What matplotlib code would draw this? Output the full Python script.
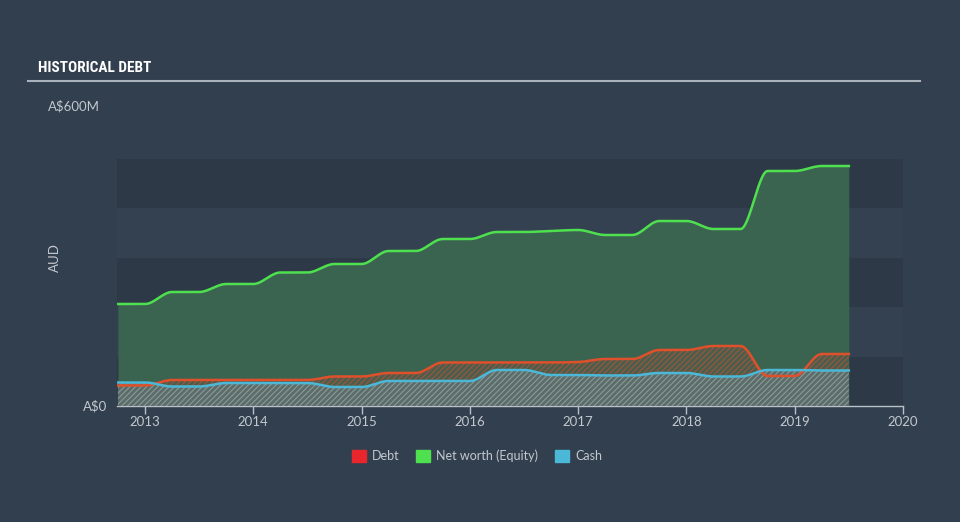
import matplotlib
matplotlib.use("Agg")
import matplotlib.pyplot as plt
from matplotlib import font_manager
import numpy as np

# quarterly points, values in A$ millions
dates = [2012.75, 2013.0, 2013.25, 2013.5, 2013.75, 2014.0, 2014.25, 2014.5,
         2014.75, 2015.0, 2015.25, 2015.5, 2015.75, 2016.0, 2016.25, 2016.5,
         2016.75, 2017.0, 2017.25, 2017.5, 2017.75, 2018.0, 2018.25, 2018.5,
         2018.75, 2019.0, 2019.25, 2019.5]
equity = [204, 204, 228, 228, 244, 244, 267, 267,
          284, 284, 310, 310, 334, 334, 348, 348,
          350, 352, 342, 342, 370, 370, 354, 354,
          470, 470, 480, 480]
debt = [41, 41, 52, 52, 52, 52, 52, 52,
        59, 59, 66, 66, 87, 87, 87, 87,
        87, 88, 94, 94, 112, 112, 120, 120,
        60, 60, 104, 104]
cash = [47, 47, 39, 39, 46, 46, 46, 46,
        38, 38, 50, 50, 50, 50, 72, 72,
        62, 62, 61, 61, 66, 66, 59, 59,
        72, 72, 71, 71]
year_ticks = [2013, 2014, 2015, 2016, 2017, 2018, 2019, 2020]

BG = "#323f4e"
BAND_DARK = "#2d3947"
BAND_LIGHT = "#344150"
GREEN = "#4fe04f"
GREEN_FILL = "#3a6450"
RED = "#e0502a"
BLUE = "#4bb8d8"
TXT = "#c3c8ce"


def pchip(x, y, xs):
    # monotone cubic (Fritsch-Carlson) so flat stretches stay flat
    x = np.asarray(x, float)
    y = np.asarray(y, float)
    h = np.diff(x)
    d = np.diff(y) / h
    m = np.zeros_like(y)
    for i in range(1, len(y) - 1):
        if d[i - 1] * d[i] > 0:
            w1 = 2 * h[i] + h[i - 1]
            w2 = h[i] + 2 * h[i - 1]
            m[i] = (w1 + w2) / (w1 / d[i - 1] + w2 / d[i])
    idx = np.clip(np.searchsorted(x, xs) - 1, 0, len(x) - 2)
    t = (xs - x[idx]) / h[idx]
    h00 = 2 * t**3 - 3 * t**2 + 1
    h10 = t**3 - 2 * t**2 + t
    h01 = -2 * t**3 + 3 * t**2
    h11 = t**3 - t**2
    return h00 * y[idx] + h10 * h[idx] * m[idx] + h01 * y[idx + 1] + h11 * h[idx] * m[idx + 1]


xs = np.linspace(dates[0], dates[-1], 800)
eq_s = pchip(dates, equity, xs)
debt_s = pchip(dates, debt, xs)
cash_s = pchip(dates, cash, xs)

plt.rcParams["font.family"] = ["Lato", "DejaVu Sans"]
plt.rcParams["hatch.linewidth"] = 0.8

# pick a narrow face for the title if one is installed
installed = {f.name for f in font_manager.fontManager.ttflist}
title_family = "Roboto"
for cand in ["Liberation Sans Narrow", "Roboto Condensed", "DejaVu Sans Condensed"]:
    if cand in installed:
        title_family = cand
        break

fig = plt.figure(figsize=(9.6, 5.22), dpi=100, facecolor=BG)
ax = fig.add_axes([117 / 960, 116 / 522, 786 / 960, 247 / 522])
ax.set_facecolor(BAND_DARK)

ymax = 494
xmin = 2013 - 28 / 108.29
ax.set_xlim(xmin, 2020)
ax.set_ylim(0, ymax)

# alternating background bands
for i in range(5):
    ax.axhspan(ymax * i / 5, ymax * (i + 1) / 5,
               color=BAND_LIGHT if i % 2 == 1 else BAND_DARK, lw=0, zorder=0)

ax.fill_between(xs, 0, eq_s, color=GREEN_FILL, lw=0, zorder=1)
ax.plot(xs, eq_s, color=GREEN, lw=1.8, zorder=5)

ax.fill_between(xs, 0, debt_s, facecolor="#5a5a4e", edgecolor=RED, hatch="//////",
                lw=0, alpha=0.55, zorder=2)
ax.fill_between(xs, 0, cash_s, facecolor="#5e6e6c", edgecolor="#8aa0a0", hatch="//////",
                lw=0, alpha=0.9, zorder=3)
ax.plot(xs, debt_s, color=RED, lw=1.8, zorder=5)
ax.plot(xs, cash_s, color=BLUE, lw=1.8, zorder=6)

for s in ["top", "right", "left"]:
    ax.spines[s].set_visible(False)
ax.spines["bottom"].set_color("#b8c0c8")
ax.spines["bottom"].set_linewidth(1.0)
ax.set_yticks([])
ax.set_xticks(year_ticks)
ax.set_xticklabels([str(y) for y in year_ticks])
ax.tick_params(axis="x", colors="#b8c0c8", labelcolor=TXT, labelsize=9.5,
               length=6, width=1, pad=1)

# y labels
ax.text(-0.013, 0, "A$0", transform=ax.get_yaxis_transform(), ha="right",
        va="center", color=TXT, fontsize=9.5)
ax.text(-0.088, 600, "A$600M", transform=ax.get_yaxis_transform(), ha="left",
        va="center", color=TXT, fontsize=9.5, clip_on=False)
fig.text(55 / 960, 1 - 258 / 522, "AUD", rotation=90, ha="center", va="center",
         color=TXT, fontsize=9.5)

# title and rule
fig.text(38 / 960, 1 - 68 / 522, "HISTORICAL DEBT", ha="left", va="center",
         color="white", fontsize=11, fontweight="bold",
         family=[title_family, "DejaVu Sans"])
fig.add_artist(plt.Line2D([28 / 960, 920 / 960], [1 - 81 / 522, 1 - 81 / 522],
                          color="#a9b2bb", lw=1.5))

# legend
legend_items = [("Debt", "#e8262b", 352), ("Net worth (Equity)", "#4fe04f", 416),
                ("Cash", "#4bb8d8", 555)]
for label, col, px in legend_items:
    fig.patches.append(plt.Rectangle((px / 960, 1 - 462 / 522), 14 / 960, 12 / 522,
                                     transform=fig.transFigure, color=col))
    fig.text((px + 20) / 960, 1 - 456 / 522, label, ha="left", va="center",
             color=TXT, fontsize=9)

fig.savefig("out.png", dpi=100, facecolor=BG)
